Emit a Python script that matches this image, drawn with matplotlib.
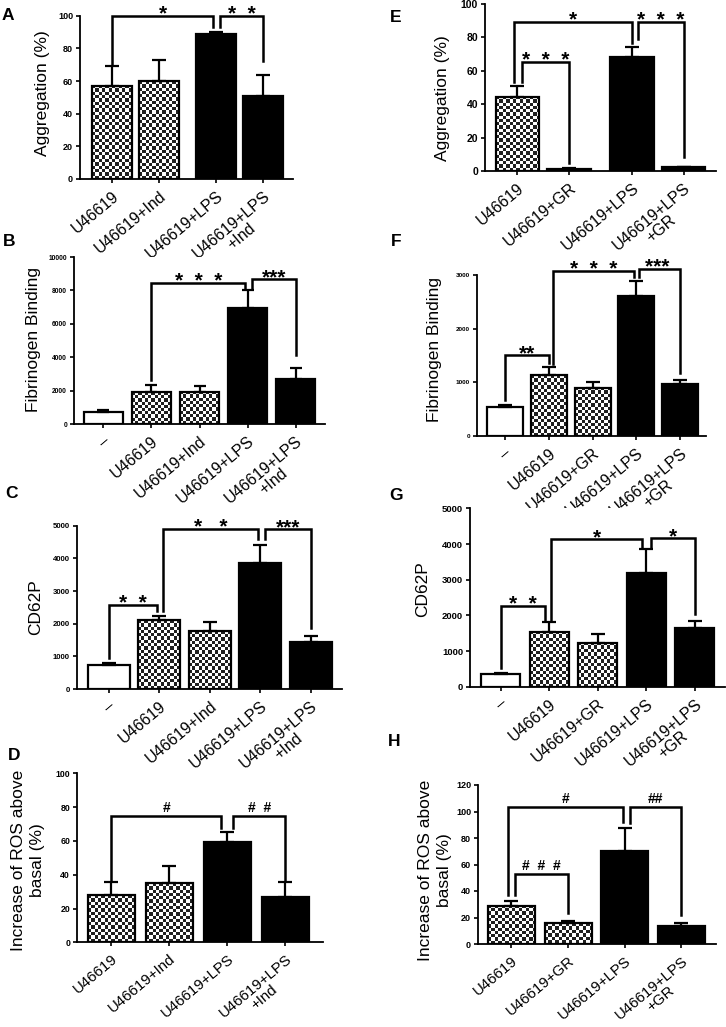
import numpy as np
import matplotlib
matplotlib.use('Agg')
import matplotlib.pyplot as plt

plt.rcParams['font.family'] = ['Liberation Sans', 'DejaVu Sans']

# categories
lab_ind4 = ['U46619', 'U46619+Ind', 'U46619+LPS', 'U46619+LPS\n+Ind']
lab_ind5 = ['\u2013', 'U46619', 'U46619+Ind', 'U46619+LPS', 'U46619+LPS\n+Ind']
lab_gr4 = ['U46619', 'U46619+GR', 'U46619+LPS', 'U46619+LPS\n+GR']
lab_gr5 = ['\u2013', 'U46619', 'U46619+GR', 'U46619+LPS', 'U46619+LPS\n+GR']

# values (mean, SEM)
agg_ind = [57, 60, 89, 51]
agg_ind_err = [12, 13, 1.2, 12.5]
fib_ind = [740, 1900, 1940, 6940, 2700]
fib_ind_err = [80, 440, 340, 1080, 680]
cd_ind = [724, 2100, 1775, 3845, 1448]
cd_ind_err = [60, 145, 265, 572, 184]
ros_ind = [27.8, 34.9, 59.5, 26.8]
ros_ind_err = [8.1, 10.2, 5.5, 9.1]

agg_gr = [44.5, 1.2, 68.4, 2.2]
agg_gr_err = [6.4, 0.3, 5.6, 0.4]
fib_gr = [535, 1138, 902, 2619, 964]
fib_gr_err = [43, 143, 99, 280, 87]
cd_gr = [355, 1543, 1234, 3198, 1636]
cd_gr_err = [19, 280, 243, 654, 206]
ros_gr = [28.9, 15.6, 70.2, 13.8]
ros_gr_err = [3.8, 1.8, 17.6, 2.3]

# significance brackets: (bar_a, off_a, bar_b, off_b, y_a, y_top, y_b, text)
br_A = [(0, 0, 2, -0.07, 70, 100, 93, '*'), (2, 0.07, 3, 0, 93, 100, 72, '*  *')]
br_B = [(1, 0, 3, -0.05, 2640, 8440, 8140, '*  *  *'), (3, 0.1, 4, 0, 8140, 8680, 4140, '***')]
br_C = [(0, 0, 1, -0.05, 940, 2570, 2400, '*  *'), (1, 0.07, 3, -0.05, 2400, 4890, 4580, '*   *'),
        (3, 0.1, 4, 0, 4580, 4890, 1860, '***')]
br_D = [(0, 0, 2, -0.1, 36, 74.8, 67.5, '#'), (2, 0.1, 3, 0, 67.5, 74.8, 36, '#  #')]
br_E = [(0, -0.07, 2, 0, 53.5, 89.4, 76.5, '*'), (0, 0.09, 1, 0, 53.5, 65.5, 4.6, '*  *  *'),
        (2, 0.12, 3, 0, 78.9, 89.4, 8.6, '*  *  *')]
br_F = [(0, 0, 1, 0, 672, 1511, 1356, '**'), (1, 0.1, 3, -0.06, 1337, 3085, 2973, '*  *  *'),
        (3, 0.06, 4, 0, 2960, 3122, 1169, '*** ')]
br_G = [(0, 0, 1, -0.08, 514, 2272, 1870, '*  *'), (1, 0.04, 3, -0.08, 1870, 4140, 3906, '*'),
        (3, 0.09, 4, 0, 3897, 4159, 2038, '*')]
br_H = [(0, -0.06, 2, -0.04, 37, 103.7, 92.3, '#'), (0, 0.07, 1, 0, 37, 52.8, 23.1, '#  #  #'),
        (2, 0.09, 3, 0, 91.6, 103.7, 21.9, '##')]

W, H = 726, 1027
fig = plt.figure(figsize=(W / 100, H / 100), dpi=100)


def add_ax(l, r, t, b):
    return fig.add_axes([l / W, 1 - b / H, (r - l) / W, (b - t) / H])


def checker(ax, bar, cell=3.3):
    x0, y0 = bar.get_x(), bar.get_y()
    w, h = bar.get_width(), bar.get_height()
    p0 = ax.transData.transform((x0, y0))
    p1 = ax.transData.transform((x0 + w, y0 + h))
    nx = max(1, int(round((p1[0] - p0[0]) / cell)))
    ny = max(1, int(round((p1[1] - p0[1]) / cell)))
    grid = np.add.outer(np.arange(ny), np.arange(nx)) % 2
    ax.imshow(grid, cmap='gray', vmin=-0.15, vmax=1, extent=(x0, x0 + w, y0, y0 + h),
              interpolation='nearest', aspect='auto', zorder=1)


def panel(px, xpos, width, xlim, vals, errs, fills, labels, ylim, ystep, tfs,
          brackets, capsize=5, xfs=11.5):
    ax = add_ax(*px)
    ax.set_xlim(*xlim)
    ax.set_ylim(0, ylim)
    fc = ['white' if f == 'w' else ('black' if f == 'k' else 'none') for f in fills]
    bars = ax.bar(xpos, vals, width, color=fc, edgecolor='black', linewidth=1.6, zorder=2)
    for b, f in zip(bars, fills):
        if f == 'c':
            checker(ax, b)
    ax.errorbar(xpos, vals, yerr=[np.zeros(len(vals)), errs], fmt='none', ecolor='black',
                elinewidth=1.6, capsize=capsize, capthick=1.6, zorder=3)
    ax.set_xlim(*xlim)
    ax.set_ylim(0, ylim)
    ax.set_yticks(np.arange(0, ylim + 1, ystep))
    ax.set_yticklabels([str(int(v)) for v in np.arange(0, ylim + 1, ystep)],
                       fontsize=tfs, fontweight='bold')
    ax.set_xticks(xpos)
    ax.set_xticklabels(labels, rotation=40, ha='right', va='top', rotation_mode='anchor',
                       fontsize=xfs, multialignment='center', linespacing=1.0)
    for s in ['top', 'right']:
        ax.spines[s].set_visible(False)
    for s in ['left', 'bottom']:
        ax.spines[s].set_linewidth(1.3)
    ax.tick_params(axis='y', length=3, width=1.2, pad=2)
    ax.tick_params(axis='x', length=3, width=1.2, pad=4)
    for a, oa, b, ob, ya, yt, yb, txt in brackets:
        xa = xpos[a] + oa
        xb = xpos[b] + ob
        ax.plot([xa, xa, xb, xb], [ya, yt, yt, yb], color='black', lw=1.8,
                clip_on=False, zorder=4, solid_joinstyle='miter')
        if txt.startswith('#'):
            ax.annotate(txt, ((xa + xb) / 2, yt), xytext=(0, 0.5), textcoords='offset points',
                        ha='center', va='bottom', fontsize=10, fontweight='bold',
                        annotation_clip=False)
        else:
            ax.annotate(txt, ((xa + xb) / 2, yt), xytext=(0, -3), textcoords='offset points',
                        ha='center', va='baseline', fontsize=15, fontweight='bold',
                        annotation_clip=False)
    return ax


x4g = [0, 1, 2.22, 3.22]
x4 = [0, 1, 2, 3]
x5 = [0, 1, 2, 3, 4]

panel((80, 293, 15.7, 179), x4g, 0.85, (-0.68, 3.85), agg_ind, agg_ind_err, 'cckk',
      lab_ind4, 100, 20, 6.5, br_A)
panel((74, 325, 257, 424), x5, 0.81, (-0.61, 4.61), fib_ind, fib_ind_err, 'wcckk',
      lab_ind5, 10000, 2000, 4.8, br_B, capsize=4.5)
panel((77, 342, 525.7, 689), x5, 0.83, (-0.63, 4.62), cd_ind, cd_ind_err, 'wcckk',
      lab_ind5, 5000, 1000, 5.6, br_C)
panel((77, 323, 773.3, 942.3), x4, 0.81, (-0.59, 3.65), ros_ind, ros_ind_err, 'cckk',
      lab_ind4, 100, 20, 6.3, br_D, xfs=10.8)
panel((485, 716, 4, 171), x4g, 0.84, (-0.63, 3.85), agg_gr, agg_gr_err, 'cckk',
      lab_gr4, 100, 20, 7.5, br_E)
panel((477, 706, 275.3, 436), x5, 0.82, (-0.64, 4.59), fib_gr, fib_gr_err, 'wcckk',
      lab_gr5, 3000, 1000, 4.6, br_F)
panel((470, 725, 508.4, 686.7), x5, 0.8, (-0.63, 4.62), cd_gr, cd_gr_err, 'wcckk',
      lab_gr5, 5000, 1000, 6.8, br_G)
panel((478, 716, 785, 944), x4, 0.83, (-0.59, 3.61), ros_gr, ros_gr_err, 'cckk',
      lab_gr4, 120, 20, 6.5, br_H, xfs=10.8)

# y axis labels
ylabs = [(43, 93, 'Aggregation (%)'), (34, 340, 'Fibrinogen Binding'), (36, 607, 'CD62P'),
         (28, 860, 'Increase of ROS above\nbasal (%)'), (443, 98, 'Aggregation (%)'),
         (435, 349, 'Fibrinogen Binding'), (423, 589, 'CD62P'),
         (435, 870, 'Increase of ROS above\nbasal (%)')]
for x, y, t in ylabs:
    fig.text(x / W, 1 - y / H, t, rotation=90, ha='center', va='center', fontsize=12.5,
             multialignment='center', linespacing=1.3)

# panel letters
letters = [(8, 15, 'A'), (9, 241, 'B'), (12, 493, 'C'), (14, 756, 'D'),
           (396, 17, 'E'), (396, 242, 'F'), (396, 496, 'G'), (394, 741, 'H')]
for x, y, t in letters:
    fig.text(x / W, 1 - y / H, t, ha='center', va='center', fontsize=12.5, fontweight='bold')

fig.savefig('out.png', dpi=100)
